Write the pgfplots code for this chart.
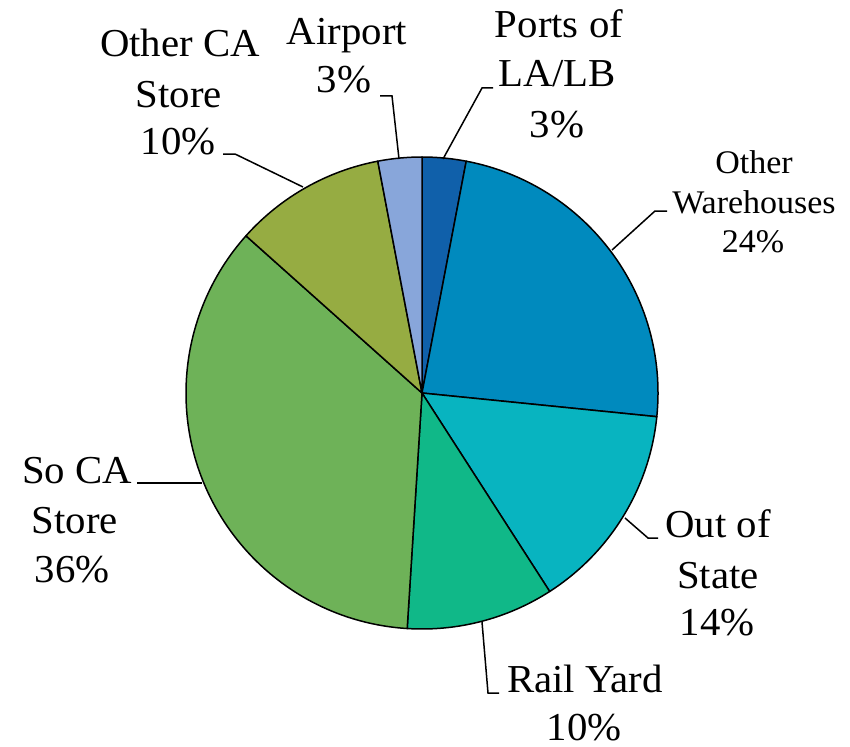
\documentclass[border=0pt]{standalone}
\usepackage{pgfplots}
\pgfplotsset{compat=1.18}
\usepackage{fontspec}
\setmainfont{Liberation Serif}
\newfontfamily\tnr[FakeStretch=1.03]{Liberation Serif}
\definecolor{cPorts}{RGB}{16,96,170}
\definecolor{cOW}{RGB}{0,138,190}
\definecolor{cOoS}{RGB}{8,180,192}
\definecolor{cRail}{RGB}{16,184,136}
\definecolor{cSoCA}{RGB}{110,178,88}
\definecolor{cOtherCA}{RGB}{150,172,66}
\definecolor{cAir}{RGB}{136,166,218}
\newcommand{\bigf}{\tnr\fontsize{19.8}{24}\selectfont}
\newcommand{\smallf}{\tnr\fontsize{16.5}{20}\selectfont}
\begin{document}
\begin{tikzpicture}
\begin{axis}[x=0.5pt,y=0.5pt,xmin=0,xmax=850,ymin=0,ymax=746,
  hide axis, clip=false, enlargelimits=false]
\path (axis cs:0,0) rectangle (axis cs:850,746);
\pgfplotsextra{
  \gdef\ang{90}
  \foreach \v/\c in {3.0/cPorts, 23.6/cOW, 14.3/cOoS, 10.1/cRail, 35.6/cSoCA, 10.4/cOtherCA, 3.0/cAir} {
    \pgfmathsetmacro\e{\ang-3.6*\v}
    \filldraw[fill=\c, draw=black, line width=0.75pt, line join=round]
      (axis cs:422,353) -- ++(\ang:118pt) arc[start angle=\ang, end angle=\e, radius=118pt] -- cycle;
    \xdef\ang{\e}
  }
}
% leader lines (pixel coords, y flipped)
\draw[line width=0.75pt] (axis cs:380,{746-96}) -- (axis cs:392,{746-96}) -- (axis cs:399,{746-159});
\draw[line width=0.75pt] (axis cs:443,{746-159}) -- (axis cs:482,{746-88}) -- (axis cs:493,{746-88});
\draw[line width=0.75pt] (axis cs:612,{746-250}) -- (axis cs:655,{746-211}) -- (axis cs:667,{746-211});
\draw[line width=0.75pt] (axis cs:625,{746-518}) -- (axis cs:648,{746-538}) -- (axis cs:658,{746-538});
\draw[line width=0.75pt] (axis cs:482,{746-622}) -- (axis cs:488,{746-693}) -- (axis cs:499,{746-693});
\draw[line width=0.75pt] (axis cs:137,{746-483}) -- (axis cs:202,{746-483});
\draw[line width=0.75pt] (axis cs:223,{746-154}) -- (axis cs:235,{746-154}) -- (axis cs:303,{746-187});
% labels
\tikzset{lb/.style={anchor=base,inner sep=0pt,font=\bigf}, ls/.style={anchor=base,inner sep=0pt,font=\smallf}}
\node[lb] at (axis cs:347,{746-45}) {Airport};
\node[lb] at (axis cs:344,{746-93}) {3\%};
\node[lb] at (axis cs:559,{746-38}) {Ports of};
\node[lb] at (axis cs:557,{746-87}) {LA/LB};
\node[lb] at (axis cs:557,{746-137}) {3\%};
\node[ls] at (axis cs:754,{746-173}) {Other};
\node[ls] at (axis cs:754,{746-213}) {Warehouses};
\node[ls] at (axis cs:753,{746-252}) {24\%};
\node[lb] at (axis cs:718,{746-537}) {Out of};
\node[lb] at (axis cs:718,{746-588}) {State};
\node[lb] at (axis cs:717,{746-635}) {14\%};
\node[lb] at (axis cs:585,{746-692}) {Rail Yard};
\node[lb] at (axis cs:584,{746-740}) {10\%};
\node[lb] at (axis cs:77,{746-483}) {So CA};
\node[lb] at (axis cs:75,{746-533}) {Store};
\node[lb] at (axis cs:72,{746-582}) {36\%};
\node[lb] at (axis cs:180,{746-57}) {Other CA};
\node[lb] at (axis cs:179,{746-107}) {Store};
\node[lb] at (axis cs:178,{746-155}) {10\%};
\end{axis}
\end{tikzpicture}
\end{document}
